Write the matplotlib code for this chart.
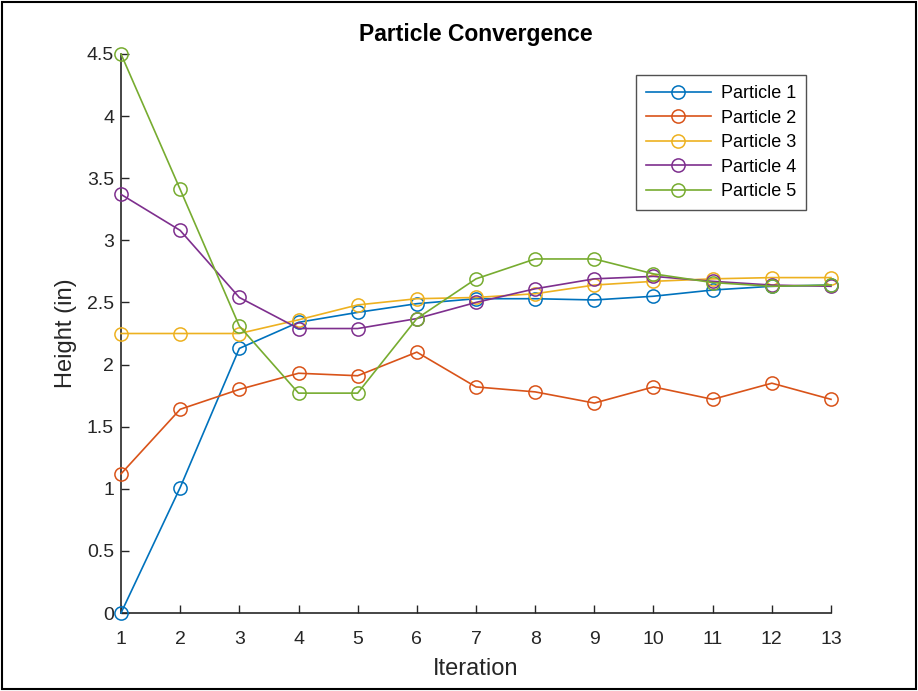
import matplotlib
matplotlib.use("Agg")
import matplotlib.pyplot as plt
from matplotlib.patches import Rectangle

plt.rcParams['font.family'] = ['Liberation Sans', 'DejaVu Sans']

iterations = list(range(1, 14))
particle_1 = [0.00, 1.01, 2.13, 2.34, 2.42, 2.49, 2.53, 2.53, 2.52, 2.55, 2.60, 2.63, 2.64]
particle_2 = [1.12, 1.64, 1.80, 1.93, 1.91, 2.10, 1.82, 1.78, 1.69, 1.82, 1.72, 1.85, 1.72]
particle_3 = [2.25, 2.25, 2.25, 2.36, 2.48, 2.53, 2.54, 2.57, 2.64, 2.67, 2.69, 2.70, 2.70]
particle_4 = [3.37, 3.08, 2.54, 2.29, 2.29, 2.37, 2.50, 2.61, 2.69, 2.71, 2.67, 2.64, 2.63]
particle_5 = [4.50, 3.41, 2.31, 1.77, 1.77, 2.37, 2.69, 2.85, 2.85, 2.73, 2.66, 2.63, 2.64]

series = [particle_1, particle_2, particle_3, particle_4, particle_5]
labels = ['Particle 1', 'Particle 2', 'Particle 3', 'Particle 4', 'Particle 5']
colors = ['#0072BD', '#D95319', '#EDB120', '#7E2F8E', '#77AC30']

fig = plt.figure(figsize=(9.18, 6.91), dpi=100)
ax = fig.add_axes([121/918, 1 - 613/691, (831 - 121)/918, (613 - 54)/691])

for vals, lab, col in zip(series, labels, colors):
    ax.plot(iterations, vals, '-o', color=col, label=lab, lw=1.2,
            markersize=9.5, markerfacecolor='none', markeredgewidth=1.1,
            clip_on=False, zorder=3)

ax.set_xlim(1, 13)
ax.set_ylim(0, 4.5)
ax.set_xticks(iterations)
ax.set_yticks([0, 0.5, 1, 1.5, 2, 2.5, 3, 3.5, 4, 4.5])
ax.set_yticklabels(['0', '0.5', '1', '1.5', '2', '2.5', '3', '3.5', '4', '4.5'])

for side in ('top', 'right'):
    ax.spines[side].set_visible(False)
for side in ('left', 'bottom'):
    ax.spines[side].set_color('#262626')
    ax.spines[side].set_linewidth(1.2)

ax.tick_params(direction='in', length=6, width=1, colors='#262626', labelsize=14)
ax.tick_params(axis='x', pad=13)
ax.tick_params(axis='y', pad=5)

ax.set_xlabel('Iteration', fontsize=17, color='#262626', labelpad=7)
ax.set_ylabel('Height (in)', fontsize=17, color='#262626', labelpad=7)
ax.set_title('Particle Convergence', fontsize=16.5, fontweight='bold', pad=9)

leg = ax.legend(loc='upper right', bbox_to_anchor=((806 - 121)/710, (613 - 75)/559),
                fontsize=13, frameon=True, fancybox=False, handlelength=3.6,
                borderpad=0.55, labelspacing=0.42, handletextpad=0.55,
                borderaxespad=0)
leg.get_frame().set_edgecolor('#262626')
leg.get_frame().set_linewidth(1.0)

fig.patches.append(Rectangle((2/918, 2/691), 914/918, 687/691, transform=fig.transFigure,
                             fill=False, edgecolor='black', linewidth=1.5))

fig.savefig('out.png', dpi=100)
